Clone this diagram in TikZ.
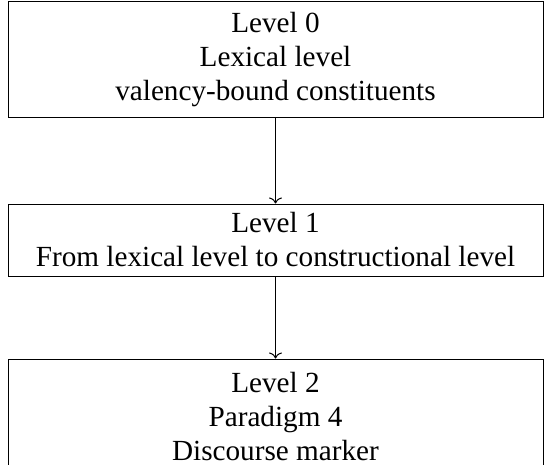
\documentclass[tikz,border=0pt]{standalone}
\usepackage{fontspec}
\setmainfont{Liberation Serif}
\usetikzlibrary{positioning,arrows.meta}
\tikzset{
  levelbox/.style={draw,align=center,minimum width=267.5pt,inner sep=2pt,line width=0.5pt,font=\fontsize{14.6}{17}\selectfont},
  ar/.style={-{To[width=6.5pt,length=3pt]},line width=0.5pt},
}
\begin{document}
\begin{tikzpicture}
  \clip (0,0) rectangle (275.5pt,-232.5pt);
  \node[levelbox,minimum height=58pt] (lvl0) at (137.75pt,-30pt) {Level 0\\Lexical level\\valency-bound constituents};
  \node[levelbox,minimum height=36pt,below=42.5pt of lvl0] (lvl1) {Level 1\\From lexical level to constructional level};
  \node[levelbox,minimum height=58pt,below=41pt of lvl1] (lvl2) {Level 2\\Paradigm 4\\Discourse marker};
  \draw[ar] (lvl0) -- (lvl1);
  \draw[ar] (lvl1) -- (lvl2);
\end{tikzpicture}
\end{document}
